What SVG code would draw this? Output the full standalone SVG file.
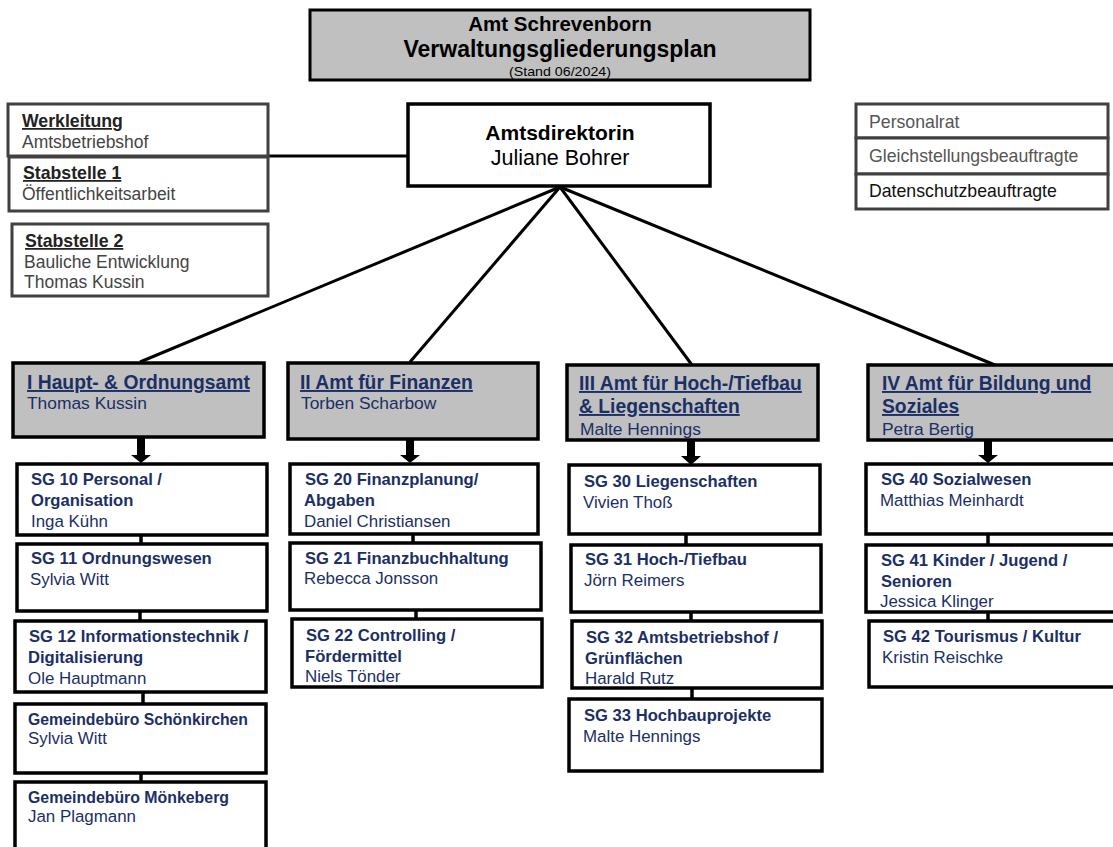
<svg xmlns="http://www.w3.org/2000/svg" width="1113" height="847" viewBox="0 0 1113 847">
<style>
text{font-family:"Liberation Sans",Arial,sans-serif}
.hdr{fill:#c0c0c0;stroke:#000;stroke-width:3}
.box{fill:#fff;stroke:#000;stroke-width:3.5}
.dept{fill:#c0c0c0;stroke:#000;stroke-width:3.5}
.side{fill:#fff;stroke:#404040;stroke-width:3}
.t1{font-weight:bold;font-size:20.5px;fill:#000}
.t2{font-weight:bold;font-size:23px;fill:#000}
.t3{font-size:13.5px;fill:#000}
.ad{font-weight:bold;font-size:21px;fill:#000}
.adn{font-size:21.5px;fill:#000}
.sb{font-weight:bold;font-size:17.7px;fill:#222;text-decoration:underline}
.sn{font-size:17.5px;fill:#444}
.rn{font-size:17.7px;fill:#555}
.dk{fill:#111}
.dt{font-weight:bold;font-size:19.3px;fill:#1b2f66;text-decoration:underline}
.dn{font-size:17.4px;fill:#1b2f66}
.gb{font-weight:bold;font-size:16.6px;fill:#1b2f66}
.gn{font-size:16.9px;fill:#1b2f66}
.ln{stroke:#000;stroke-width:3;fill:none}
.cn{stroke:#000;stroke-width:3.5;fill:none}
.ar{fill:#000}
</style>
<rect width="1113" height="847" fill="#fff"/>

<g id="connectors">
<line class="ln" x1="268" y1="156" x2="409" y2="156" stroke="#404040"/>
<line class="ln" x1="560" y1="187" x2="140" y2="362"/>
<line class="ln" x1="560" y1="187" x2="410" y2="362"/>
<line class="ln" x1="560" y1="187" x2="692" y2="365"/>
<line class="ln" x1="560" y1="187" x2="995" y2="365"/>
<path class="ar" d="M137 438h8v17h6l-10 8l-10-8h6z"/>
<path class="ar" d="M406 439h8v16h6l-10 8l-10-8h6z"/>
<path class="ar" d="M687 441h8v15h6l-10 9l-10-9h6z"/>
<path class="ar" d="M984 441h8v14h6l-10 8l-10-8h6z"/>
<line class="cn" x1="141" y1="535" x2="141" y2="544"/>
<line class="cn" x1="140" y1="611" x2="140" y2="621"/>
<line class="cn" x1="143" y1="692" x2="143" y2="704"/>
<line class="cn" x1="141" y1="773" x2="141" y2="782"/>
<line class="cn" x1="413" y1="534" x2="413" y2="543"/>
<line class="cn" x1="416" y1="610" x2="416" y2="619"/>
<line class="cn" x1="686" y1="534" x2="686" y2="545"/>
<line class="cn" x1="691" y1="612" x2="691" y2="621"/>
<line class="cn" x1="692" y1="688" x2="692" y2="699"/>
<line class="cn" x1="988" y1="534" x2="988" y2="545"/>
<line class="cn" x1="988" y1="612" x2="988" y2="621"/>
</g>

<g id="title">
<rect class="hdr" x="310" y="10" width="500" height="70"/>
<text class="t1" x="560" y="31" text-anchor="middle">Amt Schrevenborn</text>
<text class="t2" x="560" y="57" text-anchor="middle">Verwaltungsgliederungsplan</text>
<text class="t3" x="560" y="76" text-anchor="middle" textLength="102" lengthAdjust="spacingAndGlyphs">(Stand 06/2024)</text>
</g>

<g id="amtsdirektorin">
<rect class="box" x="408" y="104" width="302" height="82" stroke-width="3"/>
<text class="ad" x="560" y="140" text-anchor="middle">Amtsdirektorin</text>
<text class="adn" x="560" y="165" text-anchor="middle">Juliane Bohrer</text>
</g>

<g id="werkleitung">
<rect class="side" x="8" y="104" width="260" height="52"/>
<text class="sb" x="22" y="127">Werkleitung</text>
<text class="sn" x="22" y="148">Amtsbetriebshof</text>
</g>
<g id="stabstelle1">
<rect class="side" x="9" y="157" width="259" height="54"/>
<text class="sb" x="23" y="179">Stabstelle 1</text>
<text class="sn" x="22" y="200">Öffentlichkeitsarbeit</text>
</g>
<g id="stabstelle2">
<rect class="side" x="12" y="224" width="256" height="72"/>
<text class="sb" x="25" y="247">Stabstelle 2</text>
<text class="sn" x="24" y="268">Bauliche Entwicklung</text>
<text class="sn" x="24" y="288">Thomas Kussin</text>
</g>

<g id="personalrat">
<rect class="side" x="856" y="104" width="252" height="34"/>
<text class="rn" x="869" y="128">Personalrat</text>
</g>
<g id="gleichstellung">
<rect class="side" x="856" y="138" width="252" height="36"/>
<text class="rn" x="869" y="162">Gleichstellungsbeauftragte</text>
</g>
<g id="datenschutz">
<rect class="side" x="856" y="174" width="252" height="35"/>
<text class="rn dk" x="869" y="197">Datenschutzbeauftragte</text>
</g>

<g id="amt1">
<rect class="dept" x="13" y="363" width="251" height="74"/>
<text class="dt" x="27" y="389">I Haupt- &amp; Ordnungsamt</text>
<text class="dn" x="27" y="409">Thomas Kussin</text>
</g>
<g id="amt2">
<rect class="dept" x="288" y="363" width="250" height="76"/>
<text class="dt" x="300" y="389">II Amt für Finanzen</text>
<text class="dn" x="301" y="409">Torben Scharbow</text>
</g>
<g id="amt3">
<rect class="dept" x="567" y="365" width="251" height="75"/>
<text class="dt" x="579" y="390">III Amt für Hoch-/Tiefbau</text>
<text class="dt" x="579" y="413">&amp; Liegenschaften</text>
<text class="dn" x="580" y="435">Malte Hennings</text>
</g>
<g id="amt4">
<rect class="dept" x="868" y="365" width="250" height="75"/>
<text class="dt" x="882" y="390">IV Amt für Bildung und</text>
<text class="dt" x="882" y="413">Soziales</text>
<text class="dn" x="882" y="435">Petra Bertig</text>
</g>

<g id="sg10">
<rect class="box" x="17" y="464" width="250" height="71"/>
<text class="gb" x="31" y="485">SG 10 Personal /</text>
<text class="gb" x="31" y="506">Organisation</text>
<text class="gn" x="31" y="527">Inga Kühn</text>
</g>
<g id="sg11">
<rect class="box" x="17" y="544" width="250" height="67"/>
<text class="gb" x="31" y="564">SG 11 Ordnungswesen</text>
<text class="gn" x="30" y="585">Sylvia Witt</text>
</g>
<g id="sg12">
<rect class="box" x="15" y="621" width="251" height="71"/>
<text class="gb" x="29" y="642">SG 12 Informationstechnik /</text>
<text class="gb" x="28" y="663">Digitalisierung</text>
<text class="gn" x="28" y="684">Ole Hauptmann</text>
</g>
<g id="gb-schoenkirchen">
<rect class="box" x="15" y="704" width="251" height="69"/>
<text class="gb" x="28" y="725" textLength="220" lengthAdjust="spacingAndGlyphs">Gemeindebüro Schönkirchen</text>
<text class="gn" x="28" y="744">Sylvia Witt</text>
</g>
<g id="gb-moenkeberg">
<rect class="box" x="15" y="782" width="251" height="80"/>
<text class="gb" x="28" y="803" textLength="201" lengthAdjust="spacingAndGlyphs">Gemeindebüro Mönkeberg</text>
<text class="gn" x="28" y="822">Jan Plagmann</text>
</g>

<g id="sg20">
<rect class="box" x="290" y="464" width="248" height="70"/>
<text class="gb" x="305" y="485">SG 20 Finanzplanung/</text>
<text class="gb" x="304" y="506">Abgaben</text>
<text class="gn" x="304" y="527">Daniel Christiansen</text>
</g>
<g id="sg21">
<rect class="box" x="290" y="543" width="251" height="67"/>
<text class="gb" x="305" y="564">SG 21 Finanzbuchhaltung</text>
<text class="gn" x="304" y="584">Rebecca Jonsson</text>
</g>
<g id="sg22">
<rect class="box" x="292" y="619" width="250" height="68"/>
<text class="gb" x="306" y="641">SG 22 Controlling /</text>
<text class="gb" x="305" y="662">Fördermittel</text>
<text class="gn" x="305" y="682">Niels Tönder</text>
</g>

<g id="sg30">
<rect class="box" x="569" y="465" width="251" height="69"/>
<text class="gb" x="584" y="487">SG 30 Liegenschaften</text>
<text class="gn" x="583" y="508">Vivien Thoß</text>
</g>
<g id="sg31">
<rect class="box" x="571" y="545" width="250" height="67"/>
<text class="gb" x="585" y="565">SG 31 Hoch-/Tiefbau</text>
<text class="gn" x="584" y="586">Jörn Reimers</text>
</g>
<g id="sg32">
<rect class="box" x="572" y="621" width="250" height="67"/>
<text class="gb" x="586" y="643">SG 32 Amtsbetriebshof /</text>
<text class="gb" x="585" y="664">Grünflächen</text>
<text class="gn" x="585" y="684">Harald Rutz</text>
</g>
<g id="sg33">
<rect class="box" x="569" y="699" width="253" height="72"/>
<text class="gb" x="584" y="721">SG 33 Hochbauprojekte</text>
<text class="gn" x="583" y="742">Malte Hennings</text>
</g>

<g id="sg40">
<rect class="box" x="866" y="464" width="252" height="70"/>
<text class="gb" x="881" y="485">SG 40 Sozialwesen</text>
<text class="gn" x="880" y="506">Matthias Meinhardt</text>
</g>
<g id="sg41">
<rect class="box" x="866" y="545" width="252" height="67"/>
<text class="gb" x="881" y="566">SG 41 Kinder / Jugend /</text>
<text class="gb" x="881" y="587">Senioren</text>
<text class="gn" x="880" y="607">Jessica Klinger</text>
</g>
<g id="sg42">
<rect class="box" x="869" y="621" width="249" height="66"/>
<text class="gb" x="883" y="642">SG 42 Tourismus / Kultur</text>
<text class="gn" x="882" y="663">Kristin Reischke</text>
</g>
</svg>
